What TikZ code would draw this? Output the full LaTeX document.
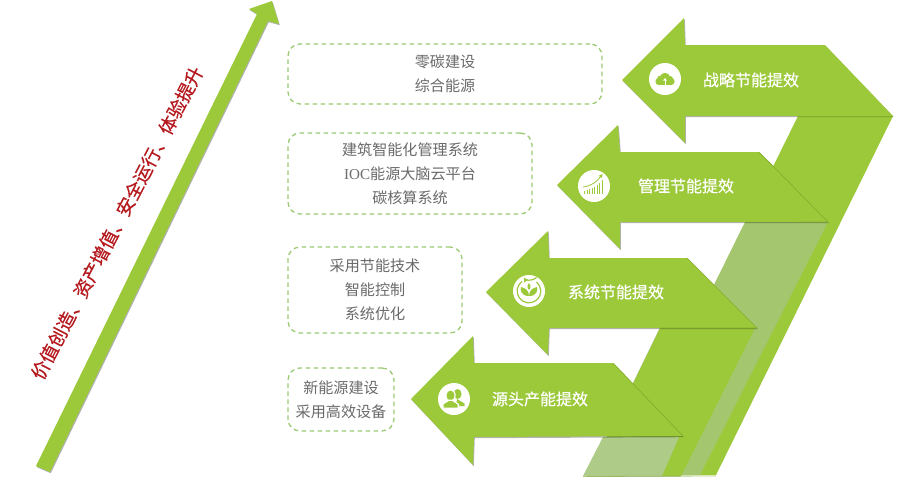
\documentclass[tikz,border=0pt]{standalone}
\usepackage{fontspec}
\setmainfont{Liberation Serif}
\newfontfamily\cjk{Noto Sans CJK SC}
\newfontfamily\cjkmed[FakeBold=0.5]{Noto Sans CJK SC}
\usetikzlibrary{shadows}
\definecolor{leaf}{HTML}{9CC93A}
\definecolor{leafdark}{HTML}{86AE32}
\definecolor{paleband}{HTML}{A4C66F}
\definecolor{paleband2}{HTML}{AECB88}
\definecolor{dashgreen}{HTML}{9CCB74}
\definecolor{greytext}{HTML}{6A6A6A}
\definecolor{redtext}{HTML}{B5191E}
\tikzset{
  softshadow/.style={drop shadow={shadow xshift=.8pt,shadow yshift=-1.2pt,opacity=.3,fill=black}},
  arrowshape/.style={fill=leaf,softshadow},
  bandshape/.style={fill=leaf},
  infobox/.style={draw=dashgreen,line width=1.3pt,dash pattern=on 4.5pt off 3.5pt,rounded corners=12pt,
     align=center,text=greytext,font=\cjk\fontsize{15.1}{24}\selectfont,inner sep=0pt},
  steplabel/.style={text=white,font=\cjkmed\fontsize{16}{18}\selectfont,inner sep=0pt},
  iconbase/.style={fill=white,circle,minimum size=32pt,inner sep=0pt},
  iconink/.style={fill=leaf,draw=none},
}
\begin{document}
\begin{tikzpicture}[x=1pt,y=-1pt]
\useasboundingbox (0,0) rectangle (900,483);
\fill[white] (0,0) rectangle (900,483);
% main rising arrow
\path[arrowshape] (36,466) -- (257,14) -- (249,9) -- (272,1) -- (279,24) -- (268,21) -- (50,472) -- cycle;
\node[rotate=62.5,text=redtext,font=\cjkmed\fontsize{18.4}{20}\selectfont,inner sep=0pt] (slogan) at (117,223) {价值创造、资产增值、安全运行、体验提升};
% text boxes
\node[infobox,minimum width=314pt,minimum height=60pt] (box1) at (445,74) {零碳建设\\综合能源};
\node[infobox,minimum width=244pt,minimum height=81pt] (box2) at (410,173.5) {建筑智能化管理系统\\{\rmfamily IOC}能源大脑云平台\\碳核算系统};
\node[infobox,minimum width=174pt,minimum height=86pt] (box3) at (375,290) {采用节能技术\\智能控制\\系统优化};
\node[infobox,minimum width=106pt,minimum height=63pt] (box4) at (341,399.5) {新能源建设\\采用高效设备};
% bands behind the arrows
\path[bandshape] (798,116) -- (893,116) -- (716,475) -- (621,475) -- cycle;
\path[fill=paleband] (745,222) -- (828,222) -- (700,475) -- (620,475) -- cycle;
\path[bandshape,drop shadow={shadow xshift=-.8pt,shadow yshift=-.8pt,opacity=.2,fill=black}] (660,328) -- (755,328) -- (681,476) -- (588,476) -- cycle;
\path[fill=paleband2] (603,437) -- (679,437) -- (662,476) -- (583,476) -- cycle;
\draw[leafdark,line width=.8pt,opacity=.6] (583,476.5) -- (716,476);
% step arrows
\path[arrowshape] (622,80) -- (684,18) -- (685,45) -- (825,45) -- (893,116) -- (685,116) -- (685,143) -- cycle;
\path[arrowshape] (557,185) -- (618,125) -- (620,152) -- (759,152) -- (828,222) -- (620,222) -- (620,249) -- cycle;
\path[arrowshape] (486,292) -- (548,231) -- (549,258) -- (687,258) -- (757,328) -- (549,328) -- (548,355) -- cycle;
\path[arrowshape] (411,399) -- (473,336) -- (474,363) -- (613,363) -- (683,436) -- (474,437) -- (473,465) -- cycle;
\draw[leafdark,line width=.7pt] (759,152) -- (828,222) -- (798,222);
\draw[leafdark,line width=.7pt] (687,258) -- (757,328) -- (660,328);
\draw[leafdark,line width=.7pt] (613,363) -- (683,436);
\draw[leafdark,line width=.7pt] (798,116) -- (893,116);
% labels
\node[steplabel] (l1) at (751,80) {战略节能提效};
\node[steplabel] (l2) at (686,186) {管理节能提效};
\node[steplabel] (l3) at (616,292) {系统节能提效};
\node[steplabel] (l4) at (540,399) {源头产能提效};
% icon: cloud
\node[iconbase] (i1) at (665,79) {};
\begin{scope}[shift={(665,79)}]
  \fill[iconink] (-6,2.5) circle (3.6) (6,2.5) circle (3.6) (0,-1) circle (5.2) (-5,-.5) circle (2.8) (5,0) circle (3);
  \fill[iconink] (-6,2.5) rectangle (6,6.1);
  \draw[white,line width=.9pt] (0,6.1) -- (0,.5);
  \fill[white] (-2,1.6) -- (0,-1) -- (2,1.6) -- cycle;
\end{scope}
% icon: chart
\node[iconbase] (i2) at (594,186) {};
\begin{scope}[shift={(594,186)}]
  \foreach \bx/\bh in {-10/3,-7.5/4,-5/5,-2.5/6,0/7.5,2.5/9.5,5/11,7.5/14}
    \fill[iconink] (\bx,8) rectangle ++(1.3,-\bh);
  \draw[leaf,line width=.8pt] (-11,1) .. controls (-3,0) and (3,-4) .. (7,-10);
  \fill[leaf] (8.5,-12) -- (4.8,-10.2) -- (8,-8) -- cycle;
\end{scope}
% icon: cycle and leaves
\node[iconbase] (i3) at (529,291) {};
\begin{scope}[shift={(529,291)}]
  \draw[leaf,line width=1.2pt] (-7,-9.5) arc (234:-50:11.8);
  \draw[leaf,line width=1.2pt] (-3.5,-11.3) arc (107:50:11.8);
  \fill[leaf] (-5,-13.5) -- (-1,-11) -- (-5,-8.5) -- cycle;
  \fill[iconink] (0,5) .. controls (-8,5) and (-9,-1) .. (-8,-4) .. controls (-4,-3) and (0,-1) .. (0,5) -- cycle;
  \fill[iconink] (0,5) .. controls (8,5) and (9,-1) .. (8,-4) .. controls (4,-3) and (0,-1) .. (0,5) -- cycle;
  \fill[iconink] (0,-1) .. controls (-3,-4) and (-1,-7) .. (0,-8) .. controls (1,-7) and (3,-4) .. (0,-1) -- cycle;
\end{scope}
% icon: people
\node[iconbase] (i4) at (454,399) {};
\begin{scope}[shift={(454,399)}]
  \fill[iconink] (3.5,-5) ellipse (4 and 5);
  \fill[iconink] (3,0) -- (10.5,4.5) -- (10.5,7) -- (2,7) -- cycle;
  \fill[white] (-3.5,-3.7) ellipse (5.2 and 6.2);
  \fill[iconink] (-3.5,-3.5) ellipse (4 and 5);
  \fill[white] (-12,10) -- (-12,5) -- (-5,.5) -- (-2,.5) -- (5,5) -- (5,10) -- cycle;
  \fill[iconink] (-10.5,8.5) -- (-10.5,5.5) -- (-5,2) -- (-2,2) -- (3.5,5.5) -- (3.5,8.5) -- cycle;
\end{scope}
\end{tikzpicture}
\end{document}
